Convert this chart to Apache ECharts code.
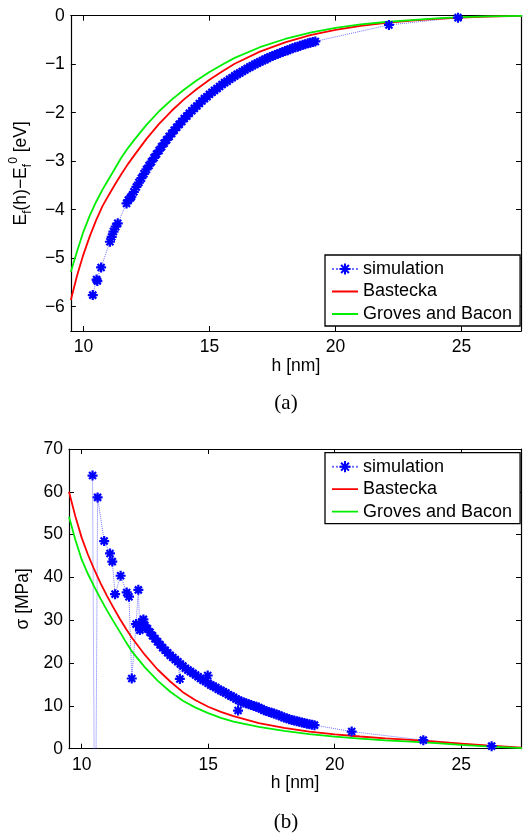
<!DOCTYPE html>
<html><head><meta charset="utf-8">
<script src="https://cdn.jsdelivr.net/npm/echarts/dist/echarts.min.js"></script>
<style>html,body{margin:0;padding:0;background:#fff}#c{width:525px;height:833px}</style>
</head><body><div id="c"></div>
<script>
// ---- data ----
const seriesNames = ['simulation', 'Bastecka', 'Groves and Bacon'];
const xTickLabels = [10, 15, 20, 25];

// (a) formation energy difference, simulation
const simEH = [10.37,10.52,10.55,10.70,11.05,11.12,11.19,11.28,11.36,11.71,11.78,11.86,
 11.9,12.0,12.1,12.2,12.3,12.4,12.5,12.6,12.7,12.8,12.9,13.0,13.1,13.2,13.3,13.4,13.5,13.6,13.7,13.8,
 13.9,14.0,14.1,14.2,14.3,14.4,14.5,14.6,14.7,14.8,14.9,15.0,15.1,15.2,15.3,15.4,15.5,15.6,15.7,15.8,
 15.9,16.0,16.1,16.2,16.3,16.4,16.5,16.6,16.7,16.8,16.9,17.0,17.1,17.2,17.3,17.4,17.5,17.6,17.7,17.8,
 17.9,18.0,18.1,18.2,18.3,18.4,18.5,18.6,18.7,18.8,18.9,19.0,19.1,19.2,
 22.12,24.86,27.6];
const simEV = [-5.76,-5.44,-5.47,-5.19,-4.66,-4.56,-4.45,-4.35,-4.28,-3.87,-3.80,-3.76,
 -3.73,-3.63,-3.53,-3.44,-3.35,-3.26,-3.17,-3.09,-3.01,-2.93,-2.85,-2.78,-2.70,-2.63,-2.56,-2.49,-2.43,-2.36,-2.30,-2.24,
 -2.18,-2.12,-2.07,-2.01,-1.96,-1.91,-1.86,-1.81,-1.76,-1.71,-1.67,-1.62,-1.58,-1.54,-1.50,-1.46,-1.42,-1.38,-1.35,-1.31,
 -1.28,-1.24,-1.21,-1.18,-1.15,-1.12,-1.09,-1.06,-1.03,-1.00,-0.98,-0.95,-0.93,-0.90,-0.88,-0.85,-0.83,-0.81,-0.79,-0.77,
 -0.75,-0.73,-0.71,-0.69,-0.67,-0.65,-0.64,-0.62,-0.60,-0.59,-0.57,-0.56,-0.54,-0.53,
 -0.19,-0.04,0.0];

// model curves sampled on h
const curveH = [9.5,9.75,10.0,10.25,10.5,10.75,11.0,11.25,11.5,11.75,12.0,12.5,13.0,13.5,14.0,14.5,15.0,15.5,16.0,17.0,18.0,19.0,20.0,21.0,22.0,23.0,24.0,25.0,26.0,27.4];
const bastE  = [-5.86,-5.35,-4.92,-4.55,-4.22,-3.93,-3.70,-3.48,-3.27,-3.07,-2.89,-2.54,-2.23,-1.96,-1.72,-1.51,-1.32,-1.15,-0.99,-0.74,-0.55,-0.40,-0.29,-0.21,-0.15,-0.10,-0.065,-0.04,-0.02,-0.005];
const grovE  = [-5.28,-4.85,-4.45,-4.12,-3.84,-3.59,-3.37,-3.15,-2.93,-2.74,-2.57,-2.25,-1.97,-1.73,-1.52,-1.33,-1.16,-1.01,-0.87,-0.65,-0.48,-0.35,-0.25,-0.18,-0.13,-0.09,-0.055,-0.03,-0.015,-0.003];

// (b) stress, simulation
const simSH = [10.43,10.53,10.63,10.89,11.12,11.21,11.32,11.54,11.78,11.87,11.98,12.15,12.24,12.30,12.37,12.44,
 12.5,12.6,12.7,12.8,12.9,13.0,13.1,13.2,13.3,13.4,13.5,13.6,13.7,13.8,13.88,
 13.9,14.0,14.1,14.2,14.3,14.4,14.5,14.6,14.7,14.8,14.9,14.98,
 15.0,15.1,15.2,15.3,15.4,15.5,15.6,15.7,15.8,15.9,16.0,16.1,16.18,
 16.2,16.3,16.4,16.5,16.6,16.7,16.8,16.9,17.0,17.1,17.2,17.3,17.4,17.5,17.6,17.7,17.8,
 17.9,18.0,18.1,18.2,18.3,18.4,18.5,18.6,18.7,18.8,18.9,19.0,19.1,19.2,
 20.67,23.5,26.2];
const simSV = [63.8,-40,58.7,48.5,45.6,43.7,36.1,40.4,36.5,35.5,16.4,29.1,37.1,27.7,29.6,30.2,
 28.8,28.0,27.2,26.4,25.7,25.0,24.3,23.6,23.0,22.4,21.8,21.3,20.8,20.3,16.3,
 19.8,19.3,18.8,18.4,18.0,17.6,17.2,16.8,16.4,16.0,15.7,17.1,
 15.3,14.9,14.6,14.3,13.9,13.6,13.3,13.0,12.6,12.3,12.0,11.6,8.9,
 11.3,11.0,10.8,10.6,10.4,10.2,10.0,9.8,9.6,9.3,9.0,8.8,8.6,8.4,8.2,8.0,7.8,
 7.5,7.3,7.1,6.9,6.7,6.6,6.4,6.3,6.1,6.0,5.8,5.7,5.6,5.5,
 4.0,2.0,0.6];
const bastS = [60,54.3,49.3,45.3,41.8,38.6,35.7,33.0,30.4,28.0,25.8,21.9,18.5,15.7,13.2,11.3,9.8,8.6,7.6,6.0,4.85,4.0,3.35,2.85,2.4,2.05,1.65,1.2,0.75,0.25];
const grovS = [54.2,48.8,44.2,40.8,37.8,35.0,32.3,29.8,27.4,24.9,22.6,19.0,15.9,13.3,11.2,9.6,8.3,7.2,6.3,5.1,4.15,3.4,2.8,2.35,1.95,1.65,1.3,0.9,0.55,0.15];

// ---- chart ----
function zip(a, b) { const n = Math.min(a.length, b.length); const r = []; for (let i = 0; i < n; i++) r.push([a[i], b[i]]); return r; }
const FONT = 'Liberation Sans, Arial, Helvetica, sans-serif';
const FS = 17.5;
const star = 'path://M0,5L10,5M5,0L5,10M1.5,1.5L8.5,8.5M8.5,1.5L1.5,8.5';
const lineIcon = 'path://M0,0L0.01,0L0.01,0.01Z M0,6.1L26,6.1L26,7.9L0,7.9Z M25.99,13.99L26,13.99L26,14Z';
const minus = v => String(v).replace('-', '\u2212');

function xAx(grid, pos, main) {
  return {
    type: 'value', gridIndex: grid, position: pos, min: 9.5, max: 27.36,
    minInterval: 5, maxInterval: 5,
    axisLine: { show: true, onZero: false, lineStyle: { color: '#000', width: 1.2 } },
    axisTick: { show: true, inside: true, length: 5, lineStyle: { color: '#000', width: 1 } },
    axisLabel: { show: main, margin: 7, color: '#000', fontFamily: FONT, fontSize: FS,
      formatter: v => (xTickLabels.indexOf(v) >= 0 ? String(v) : '') },
    splitLine: { show: false },
    name: main ? 'h [nm]' : '', nameLocation: 'middle', nameGap: 25,
    nameTextStyle: { color: '#000', fontFamily: FONT, fontSize: FS }
  };
}
function yAx(grid, pos, main, min, max, iv, name, gap) {
  return {
    type: 'value', gridIndex: grid, position: pos, min: min, max: max,
    minInterval: iv, maxInterval: iv,
    axisLine: { show: true, onZero: false, lineStyle: { color: '#000', width: 1.2 } },
    axisTick: { show: true, inside: true, length: 5, lineStyle: { color: '#000', width: 1 } },
    axisLabel: { show: main, margin: 6, color: '#000', fontFamily: FONT, fontSize: FS,
      formatter: v => (Math.abs(v - Math.round(v)) < 1e-9 ? minus(Math.round(v)) : '') },
    splitLine: { show: false },
    name: main ? name : '', nameLocation: 'middle', nameGap: gap,
    nameTextStyle: { color: '#000', fontFamily: FONT, fontSize: FS,
      rich: {
        m: { fontFamily: FONT, fontSize: FS, color: '#000', lineHeight: 26, verticalAlign: 'middle' },
        sub: { fontFamily: FONT, fontSize: 12, color: '#000', lineHeight: 12, verticalAlign: 'bottom' },
        sup: { fontFamily: FONT, fontSize: 12, color: '#000', lineHeight: 12, verticalAlign: 'top' }
      } }
  };
}
function simSeries(xi, data) {
  return { name: 'simulation', type: 'line', xAxisIndex: xi, yAxisIndex: xi, data: data,
    symbol: star, symbolSize: 10, showAllSymbol: true, clip: true,
    lineStyle: { type: 'dotted', width: 1, color: '#7070ff' },
    itemStyle: { color: '#0000ff', borderColor: '#0000ff', borderWidth: 2.2 } };
}
function curve(xi, name, color, data) {
  return { name: name, type: 'line', xAxisIndex: xi, yAxisIndex: xi, data: data,
    symbol: 'none', smooth: false, clip: true,
    lineStyle: { color: color, width: 1.8 }, itemStyle: { color: color } };
}
function legendAt(top) {
  return { left: 325, top: top, orient: 'vertical',
    data: [{ name: seriesNames[0] }, { name: seriesNames[1], icon: lineIcon }, { name: seriesNames[2], icon: lineIcon }],
    backgroundColor: '#fff', borderColor: '#000', borderWidth: 1.3,
    padding: [5, 8, 3, 6], itemWidth: 26, itemHeight: 14, itemGap: 4.5,
    textStyle: { color: '#000', fontFamily: FONT, fontSize: 18, lineHeight: 18 } };
}

const chart = echarts.init(document.getElementById('c'), null, { renderer: 'canvas' });
chart.setOption({
  animation: false,
  backgroundColor: '#fff',
  grid: [
    { left: 69, top: 15.7, width: 452, height: 315.3 },
    { left: 69, top: 449, width: 452, height: 299.7 }
  ],
  xAxis: [xAx(0, 'bottom', true), xAx(1, 'bottom', true), xAx(0, 'top', false), xAx(1, 'top', false)],
  yAxis: [
    yAx(0, 'left', true, -6.5, 0, 1, '{m|E}{sub|f}{m|(h)\u2212E}{sub|f}{sup|0}{m| [eV]}', 32),
    yAx(1, 'left', true, 0, 70, 10, '{m|\u03c3 [MPa]}', 27),
    yAx(0, 'right', false, -6.5, 0, 1, '', 0),
    yAx(1, 'right', false, 0, 70, 10, '', 0)
  ],
  legend: [legendAt(255), legendAt(452.7)],
  series: [
    simSeries(0, zip(simEH, simEV)),
    curve(0, 'Bastecka', '#ff0000', zip(curveH, bastE)),
    curve(0, 'Groves and Bacon', '#00ee00', zip(curveH, grovE)),
    simSeries(1, zip(simSH, simSV)),
    curve(1, 'Bastecka', '#ff0000', zip(curveH, bastS)),
    curve(1, 'Groves and Bacon', '#00ee00', zip(curveH, grovS))
  ],
  graphic: [
    { type: 'text', x: 286, y: 403, style: { text: '(a)', fill: '#000', font: '21px "Liberation Serif", "Times New Roman", serif', textAlign: 'center', textVerticalAlign: 'middle' } },
    { type: 'text', x: 286, y: 822, style: { text: '(b)', fill: '#000', font: '21px "Liberation Serif", "Times New Roman", serif', textAlign: 'center', textVerticalAlign: 'middle' } }
  ]
});
</script></body></html>
